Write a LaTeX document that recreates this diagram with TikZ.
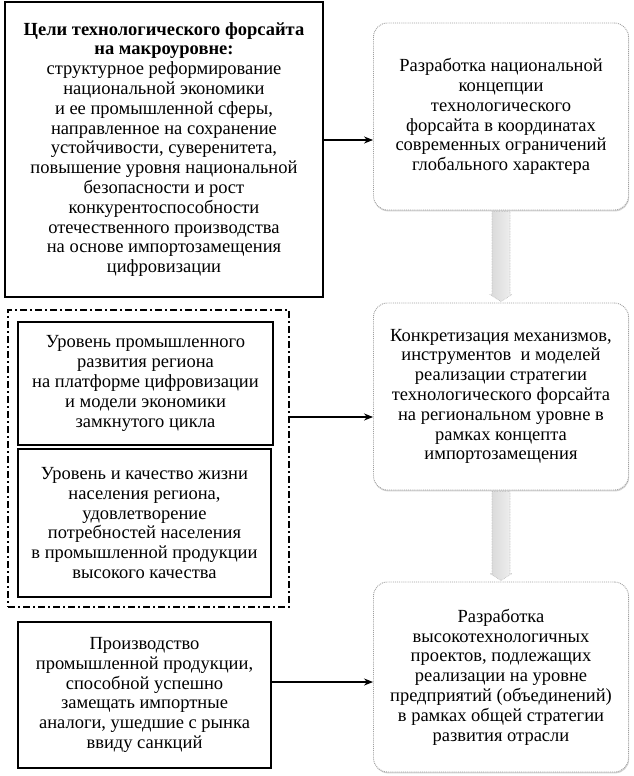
\documentclass[tikz,border=0pt]{standalone}
\usepackage{fontspec}
\setmainfont{Liberation Serif}
\usetikzlibrary{arrows.meta,shadows,calc}
\begin{document}
\begin{tikzpicture}[x=1pt,y=-1pt,
  txt/.style={align=center, inner sep=0pt, font=\fontsize{18.5}{19.8}\selectfont},
  box/.style={txt, draw=black, line width=1.3pt, fill=white},
  rbox/.style={txt, draw=gray!75, densely dotted, line width=0.9pt, rounded corners=14pt, fill=white,
     drop shadow={shadow xshift=0.6pt, shadow yshift=-1.4pt, opacity=0.35}},
  grp/.style={draw=black, line width=1.6pt, dash pattern=on 7pt off 3pt on 2pt off 3pt},
  arr/.style={line width=1.3pt, -{Stealth[length=9pt,width=7pt]}},
  garr/.style={draw=gray!55, densely dotted, line width=0.6pt, left color=gray!30, right color=gray!12}
]
\useasboundingbox (0,0) rectangle (634,776);

\node[box, minimum width=318pt, minimum height=295pt] (tl) at (164,149.5)
 {\textbf{Цели технологического форсайта}\\
  \textbf{на макроуровне:}\\
  структурное реформирование\\
  национальной экономики\\
  и ее промышленной сферы,\\
  направленное на сохранение\\
  устойчивости, суверенитета,\\
  повышение уровня национальной\\
  безопасности и рост\\
  конкурентоспособности\\
  отечественного производства\\
  на основе импортозамещения\\
  цифровизации};

\node[rbox, minimum width=255pt, minimum height=187pt] (r1) at (501,116.5)
 {Разработка национальной\\
  концепции\\
  технологического\\
  форсайта в координатах\\
  современных ограничений\\
  глобального характера};

\node[rbox, minimum width=255pt, minimum height=187pt] (r2) at (501,396.5)
 {Конкретизация механизмов,\\
  инструментов\ \ и моделей\\
  реализации стратегии\\
  технологического форсайта\\
  на региональном уровне в\\
  рамках концепта\\
  импортозамещения};

\node[rbox, minimum width=255pt, minimum height=190pt] (r3) at (501,677)
 {Разработка\\
  высокотехнологичных\\
  проектов, подлежащих\\
  реализации на уровне\\
  предприятий (объединений)\\
  в рамках общей стратегии\\
  развития отрасли};

\node[grp, minimum width=281pt, minimum height=297pt, inner sep=0pt] (grp) at (148.5,458.5) {};

\node[box, minimum width=255pt, minimum height=123pt] (i1) at (145.5,383.5)
 {Уровень промышленного\\
  развития региона\\
  на платформе цифровизации\\
  и модели экономики\\
  замкнутого цикла};

\node[box, minimum width=253pt, minimum height=148pt] (i2) at (144.5,523)
 {Уровень и качество жизни\\
  населения региона,\\
  удовлетворение\\
  потребностей населения\\
  в промышленной продукции\\
  высокого качества};

\node[box, minimum width=253pt, minimum height=146pt] (bl) at (144.5,695)
 {Производство\\
  промышленной продукции,\\
  способной успешно\\
  замещать импортные\\
  аналоги, ушедшие с рынка\\
  ввиду санкций};

\coordinate (y1) at (0,140);
\coordinate (y2) at (0,417);
\coordinate (y3) at (0,682);
\draw[arr] (tl.east |- y1) -- (r1.west |- y1);
\draw[arr] (grp.east |- y2) -- (r2.west |- y2);
\draw[arr] (bl.east |- y3) -- (r3.west |- y3);

\path[garr] ($(r1.south)+(-9,1)$) -- ($(r2.north)+(-9,-8)$) -- ($(r2.north)+(-11,-8)$) -- ($(r2.north)+(0,-1)$)
  -- ($(r2.north)+(11,-8)$) -- ($(r2.north)+(9,-8)$) -- ($(r1.south)+(9,1)$) -- cycle;
\path[garr] ($(r2.south)+(-9,1)$) -- ($(r3.north)+(-9,-8)$) -- ($(r3.north)+(-11,-8)$) -- ($(r3.north)+(0,-1)$)
  -- ($(r3.north)+(11,-8)$) -- ($(r3.north)+(9,-8)$) -- ($(r2.south)+(9,1)$) -- cycle;
\end{tikzpicture}
\end{document}
